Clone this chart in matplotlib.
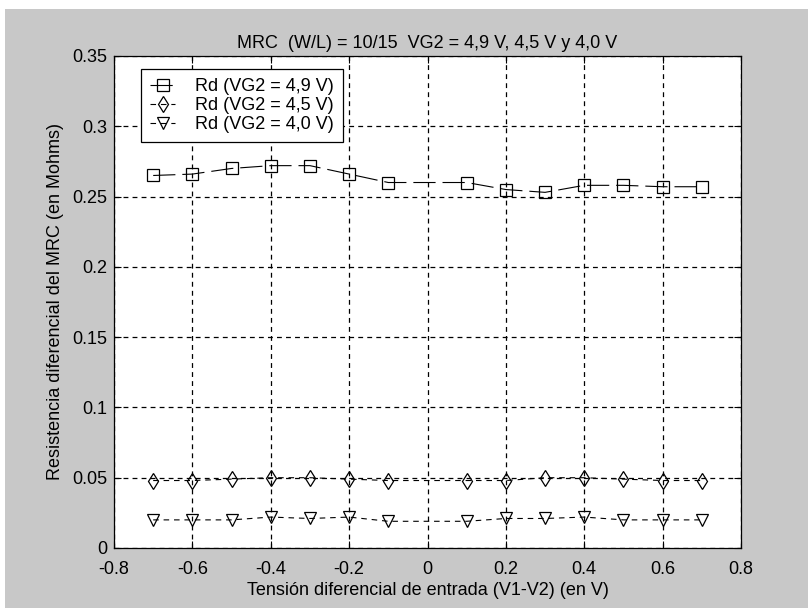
import numpy as np
import matplotlib
matplotlib.use("Agg")
import matplotlib.pyplot as plt
from matplotlib.patches import Rectangle

plt.rcParams['font.family'] = ['Liberation Sans', 'DejaVu Sans']
plt.rcParams['font.size'] = 13
plt.rcParams['lines.scale_dashes'] = False

# Tensión diferencial de entrada (V)
vd = [-0.7, -0.6, -0.5, -0.4, -0.3, -0.2, -0.1, 0.0, 0.1, 0.2, 0.3, 0.4, 0.5, 0.6, 0.7]

# Resistencia diferencial (Mohms) para cada VG2
rd_49 = [0.265, 0.266, 0.270, 0.272, 0.272, 0.266, 0.260, 0.260, 0.260, 0.255, 0.253, 0.258, 0.258, 0.257, 0.257]
rd_45 = [0.048, 0.048, 0.049, 0.050, 0.050, 0.049, 0.048, 0.048, 0.048, 0.048, 0.050, 0.050, 0.049, 0.048, 0.048]
rd_40 = [0.020, 0.020, 0.020, 0.022, 0.021, 0.022, 0.019, 0.019, 0.019, 0.021, 0.021, 0.022, 0.020, 0.020, 0.020]

labels = ['Rd (VG2 = 4,9 V)', 'Rd (VG2 = 4,5 V)', 'Rd (VG2 = 4,0 V)']
xticks = [-0.8, -0.6, -0.4, -0.2, 0, 0.2, 0.4, 0.6, 0.8]
yticks = [0, 0.05, 0.1, 0.15, 0.2, 0.25, 0.3, 0.35]

W, H = 808, 608
fig = plt.figure(figsize=(W / 100, H / 100), dpi=100)
fig.patch.set_facecolor('white')
# gray window background
fig.patches.append(Rectangle((5 / W, 0), 1, 1 - 9 / H, transform=fig.transFigure,
                             facecolor='#c8c8c8', edgecolor='none', zorder=-10))

ax = fig.add_axes([114 / W, 60 / H, 627 / W, 492 / H])
ax.set_facecolor('white')

# no marker at V1-V2 = 0
mk = [i for i in range(len(vd)) if vd[i] != 0]
common = dict(color='black', lw=0.8, mfc='none', mec='black', mew=0.9, markevery=mk)
ax.plot(vd, rd_49, marker='s', ms=8.5, dashes=(16, 5), label=labels[0], **common)
ax.plot(vd, rd_45, marker='d', ms=8, dashes=(4, 3.5), label=labels[1], **common)
ax.plot(vd, rd_40, marker='v', ms=9, dashes=(4, 3.5), label=labels[2], **common)

ax.set_xlim(-0.8, 0.8)
ax.set_ylim(0, 0.35)
ax.set_xticks(xticks)
ax.set_yticks(yticks)
ax.set_xticklabels(['%g' % t for t in xticks])
ax.set_yticklabels(['%g' % t for t in yticks])
ax.tick_params(direction='in', length=5, width=0.8, top=True, right=True, pad=5)
ax.tick_params(axis='x', pad=9)
ax.grid(True, color='black', linestyle=(0, (3.5, 3)), linewidth=0.9)
for s in ax.spines.values():
    s.set_linewidth(0.9)

ax.set_title('MRC  (W/L) = 10/15  VG2 = 4,9 V, 4,5 V y 4,0 V', fontsize=13, pad=6)
ax.set_xlabel('Tensión diferencial de entrada (V1-V2) (en V)', labelpad=3)
ax.set_ylabel('Resistencia diferencial del MRC (en Mohms)', labelpad=6)

leg = ax.legend(loc='upper left', bbox_to_anchor=(27 / 627, 1 - 13 / 492), borderaxespad=0,
                fancybox=False, edgecolor='black', framealpha=1, handlelength=1.4,
                handletextpad=1.1, borderpad=0.5, labelspacing=0.12, fontsize=13)
leg.get_frame().set_linewidth(0.9)

fig.savefig('out.png', dpi=100)
